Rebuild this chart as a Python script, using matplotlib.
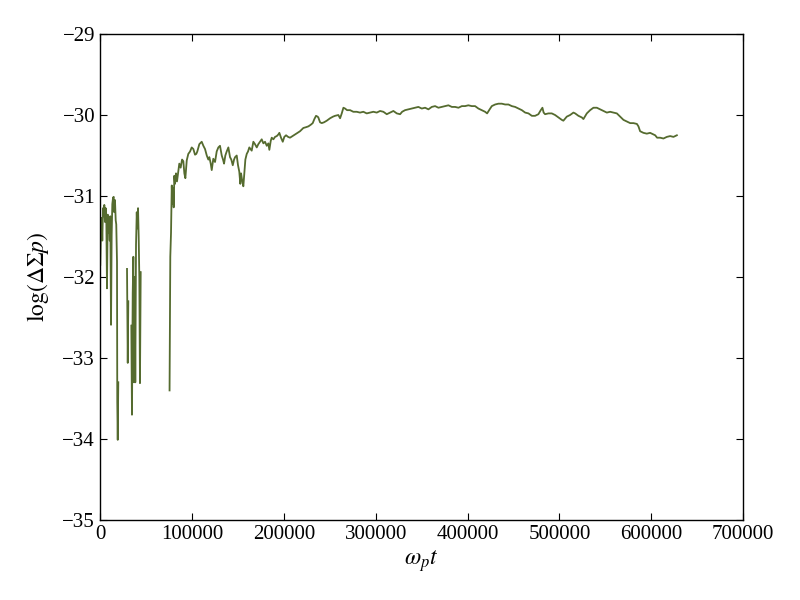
import numpy as np
import matplotlib
matplotlib.use('Agg')
import matplotlib.pyplot as plt

plt.rcParams['font.family'] = 'serif'
plt.rcParams['font.serif'] = ['Liberation Serif', 'DejaVu Serif']
plt.rcParams['mathtext.fontset'] = 'stix'

nan = np.nan

# time (in units of 1000 / omega_p) -- NaN marks gaps in the record
t_k = [0.3, 1.1, 1.9, 2.5, 3.3, 4.0, 4.7, 5.4, 6.2, 6.9, 7.6, 8.4, 9.0, 9.8,
       10.6, 11.2, 12.0, 12.7, 13.4, 14.2, 14.9, 15.6, 16.3, 17.1, 17.7, 18.5,
       18.8, 19.3, 19.9, nan,
       29.4, 30.2, 30.8, nan,
       34.1, 34.8, 35.6, 36.3, 37.0, 37.8, 38.4, 39.2, 40.0, 40.6, 41.4, 42.1,
       42.8, 43.5, 44.3, nan,
       75.7, 76.5, 77.3, 78.1, 78.7, 79.5, 80.2, 80.9, 81.6, 82.7, 83.8, 85.2,
       86.3, 87.8, 89.3, 90.7, 91.8, 92.9, 94.4, 96.1, 98.0, 99.8, 101.6, 103.4,
       104.8, 105.9, 108.1, 110.7, 112.5, 114.3, 116.2, 117.9, 119.0, 120.5,
       121.6, 123.3, 125.2, 127.0, 128.8, 130.6, 132.5, 133.9, 135.0, 136.4,
       137.9, 139.7, 141.5, 142.9, 144.5, 145.9, 147.0, 148.8, 150.2, 151.6,
       152.7, 153.5, 154.6, 156.0, 157.1, 158.2, 159.7, 161.1, 162.5, 165.1,
       166.9, 168.7, 170.6, 172.3, 174.2, 176.0, 177.8, 179.6, 181.5, 183.2,
       184.3, 185.8, 186.9, 188.7, 190.5, 192.4, 194.1, 195.2, 197.0, 198.9,
       200.6, 202.5, 204.7, 206.8, 209.6, 212.3, 215.0, 217.7, 221.3, 224.3,
       226.8, 229.4, 231.5, 233.3, 235.1, 236.8, 237.6, 239.5, 241.3, 243.8,
       246.8, 250.4, 253.6, 255.8, 259.4, 261.3, 263.1, 264.9, 266.7, 268.9,
       272.2, 275.7, 279.4, 283.0, 286.6, 290.3, 293.9, 297.5, 301.2, 304.8,
       308.4, 312.1, 315.7, 319.3, 323.0, 326.6, 328.8, 332.0, 335.6, 339.3,
       342.9, 346.5, 350.2, 353.8, 357.4, 361.1, 364.7, 368.3, 372.0, 375.6,
       379.2, 382.9, 386.5, 390.1, 393.8, 397.3, 400.9, 404.6, 408.2, 411.8,
       415.5, 419.1, 421.3, 423.5, 426.4, 430.0, 433.6, 437.3, 440.9, 444.5,
       448.2, 451.8, 455.4, 459.1, 462.7, 466.3, 470.0, 473.5, 477.1, 479.7,
       481.5, 482.8, 484.4, 488.0, 491.7, 495.3, 498.9, 502.6, 504.3, 508.0,
       511.6, 515.2, 517.1, 520.7, 524.4, 526.1, 529.8, 533.4, 537.0, 540.7,
       544.3, 547.9, 551.6, 555.2, 558.8, 562.5, 566.1, 569.7, 573.4, 577.0,
       580.6, 584.3, 586.0, 587.8, 591.4, 595.1, 598.7, 602.3, 604.2, 606.3,
       609.6, 613.2, 616.9, 620.5, 624.1, 627.8]

log_dp = [-31.85, -31.40, -31.27, -31.55, -31.15, -31.25, -31.11, -31.32, -31.15,
          -31.30, -32.14, -31.23, -31.45, -31.30, -31.55, -31.25, -32.59, -31.48,
          -31.10, -31.02, -31.01, -31.20, -31.05, -31.30, -31.35, -31.81, -33.54,
          -34.01, -33.30, nan,
          -31.90, -33.06, -32.30, nan,
          -32.60, -33.70, -32.20, -31.75, -33.30, -32.00, -33.30, -31.60, -31.20,
          -31.40, -31.15, -31.50, -32.00, -33.31, -31.94, nan,
          -33.40, -31.75, -31.45, -30.87, -31.10, -30.90, -31.14, -30.75, -30.85,
          -30.72, -30.82, -30.70, -30.60, -30.65, -30.55, -30.57, -30.72, -30.78,
          -30.56, -30.48, -30.45, -30.40, -30.42, -30.49, -30.48, -30.45, -30.36,
          -30.33, -30.38, -30.42, -30.50, -30.55, -30.52, -30.60, -30.68, -30.54,
          -30.58, -30.45, -30.40, -30.38, -30.50, -30.55, -30.60, -30.50, -30.45,
          -30.40, -30.52, -30.55, -30.62, -30.55, -30.52, -30.50, -30.62, -30.70,
          -30.85, -30.72, -30.80, -30.88, -30.72, -30.55, -30.48, -30.45, -30.40,
          -30.44, -30.33, -30.36, -30.40, -30.36, -30.33, -30.30, -30.35, -30.33,
          -30.38, -30.35, -30.43, -30.32, -30.28, -30.30, -30.27, -30.26, -30.24,
          -30.22, -30.28, -30.33, -30.27, -30.25, -30.27, -30.28, -30.26, -30.24,
          -30.22, -30.20, -30.16, -30.15, -30.14, -30.12, -30.10, -30.05, -30.01,
          -30.02, -30.03, -30.09, -30.10, -30.09, -30.07, -30.04, -30.02, -30.01,
          -30.00, -30.04, -29.98, -29.91, -29.92, -29.94, -29.94, -29.96, -29.96,
          -29.97, -29.96, -29.98, -29.97, -29.96, -29.97, -29.95, -29.96, -29.99,
          -29.97, -29.95, -29.98, -29.99, -29.96, -29.94, -29.93, -29.92, -29.91,
          -29.90, -29.92, -29.91, -29.93, -29.90, -29.89, -29.91, -29.90, -29.89,
          -29.88, -29.90, -29.90, -29.91, -29.89, -29.89, -29.88, -29.89, -29.89,
          -29.92, -29.94, -29.96, -29.98, -29.94, -29.89, -29.87, -29.86, -29.86,
          -29.87, -29.87, -29.89, -29.90, -29.92, -29.94, -29.97, -29.98, -30.01,
          -30.01, -29.99, -29.94, -29.91, -29.97, -29.99, -29.98, -29.98, -30.00,
          -30.03, -30.06, -30.07, -30.02, -30.00, -29.97, -29.98, -30.01, -30.03,
          -30.05, -29.98, -29.94, -29.91, -29.91, -29.93, -29.95, -29.97, -29.96,
          -29.97, -29.98, -30.02, -30.06, -30.08, -30.10, -30.10, -30.11, -30.14,
          -30.20, -30.22, -30.23, -30.22, -30.24, -30.25, -30.28, -30.28, -30.29,
          -30.27, -30.26, -30.27, -30.25]

x_ticks = [0, 100000, 200000, 300000, 400000, 500000, 600000, 700000]
y_ticks = [-35, -34, -33, -32, -31, -30, -29]

t = np.array(t_k) * 1000.0

fig = plt.figure(figsize=(8, 6), dpi=100)
ax = fig.add_axes([0.125, 0.1333, 0.804, 0.81])
ax.plot(t, log_dp, color='#556b2f', lw=1.3)

ax.set_xlim(0, 700000)
ax.set_ylim(-35, -29)
ax.set_xticks(x_ticks)
ax.set_yticks(y_ticks)
ax.set_xticklabels([str(v) for v in x_ticks])
ax.set_yticklabels(['\u2212' + str(abs(v)) for v in y_ticks])
ax.tick_params(direction='in', top=True, right=True, length=5, labelsize=15)
for s in ax.spines.values():
    s.set_linewidth(1.0)

ax.set_xlabel(r'$\omega_p t$', fontsize=17, labelpad=3)
ax.set_ylabel(r'$\log(\Delta\Sigma p)$', fontsize=17, labelpad=8)

fig.savefig('out.png', dpi=100)
